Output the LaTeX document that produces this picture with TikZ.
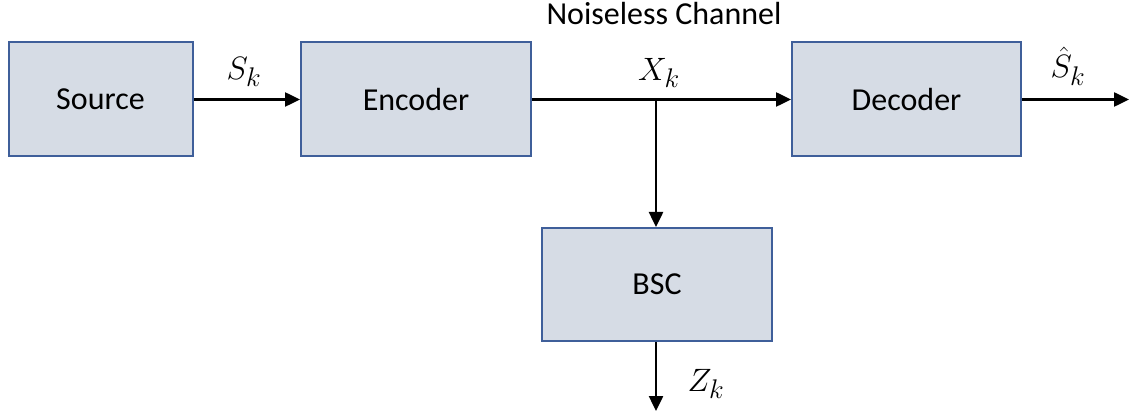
\documentclass[tikz,border=0pt]{standalone}
\usepackage{fontspec}
\usepackage{graphicx}
\setmainfont{Carlito}
\usetikzlibrary{arrows.meta}
\definecolor{boxfill}{HTML}{D6DCE5}
\definecolor{boxdraw}{HTML}{3F5F9A}
\tikzset{
  blk/.style={draw=boxdraw, fill=boxfill, line width=2pt, inner sep=0pt, font=\fontsize{32}{38}\selectfont},
  conn/.style={line width=2.5pt, -{Triangle[length=15pt,width=14pt]}},
  lbl/.style={font=\fontsize{24.88}{30}\selectfont, inner sep=1pt},
}
\newcommand{\mlbl}[1]{\scalebox{1.3}{$#1$}}
\begin{document}
\begin{tikzpicture}[x=1pt,y=-1pt]
\useasboundingbox (0,0) rectangle (1135,414);
\node[blk, minimum width=184pt, minimum height=114pt] (src) at (100.5,99.5) {Source};
\node[blk, minimum width=230pt, minimum height=114pt] (enc) at (416,99.5) {Encoder};
\node[blk, minimum width=229pt, minimum height=114pt] (dec) at (906.5,99.5) {Decoder};
\node[blk, minimum width=230pt, minimum height=113pt] (bsc) at (657,284.5) {BSC};
\coordinate (j) at (656,99.5);
\coordinate (out) at (1129,99.5);
\coordinate (zend) at (656,411);
\draw[conn] (src.east) -- (enc.west);
\draw[conn] (enc.east) -- (dec.west);
\draw[conn] (j) -- (j |- bsc.north);
\draw[conn] (dec.east) -- (out);
\draw[conn] (bsc.south -| zend) -- (zend);
\node[lbl] (sk) at (244,72) {\mlbl{S_k}};
\node[lbl] (xk) at (659,73) {\mlbl{X_k}};
\node[lbl] (shk) at (1068,66) {\mlbl{\hat{S}_k}};
\node[lbl] (zk) at (706,384) {\mlbl{Z_k}};
\node[font=\fontsize{32}{38}\selectfont] (nc) at (664,14) {Noiseless Channel};
\end{tikzpicture}
\end{document}
